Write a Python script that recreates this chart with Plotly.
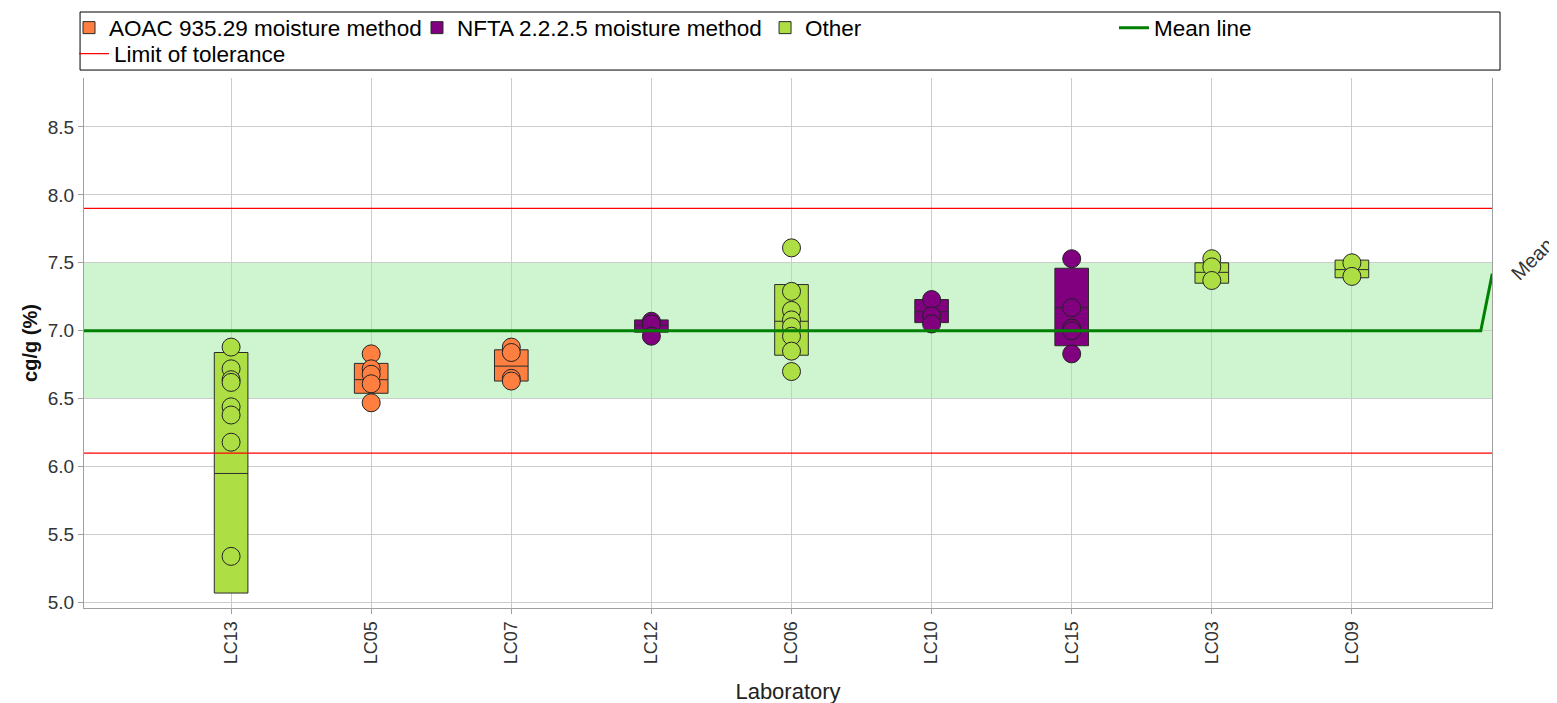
import plotly.graph_objects as go

# ---- data ----
labs = ["LC13", "LC05", "LC07", "LC12", "LC06", "LC10", "LC15", "LC03", "LC09"]
groups = {
    "AOAC 935.29 moisture method": ["LC05", "LC07"],
    "NFTA 2.2.2.5 moisture method": ["LC12", "LC10", "LC15"],
    "Other": ["LC13", "LC06", "LC03", "LC09"],
}
group_colors = {
    "AOAC 935.29 moisture method": "#ff7f40",
    "NFTA 2.2.2.5 moisture method": "#800080",
    "Other": "#addf45",
}
points = {
    "LC13": [6.88, 6.72, 6.64, 6.62, 6.44, 6.38, 6.18, 5.34],
    "LC05": [6.83, 6.72, 6.68, 6.61, 6.47],
    "LC07": [6.88, 6.84, 6.65, 6.63],
    "LC12": [7.07, 7.05, 6.96],
    "LC06": [7.61, 7.29, 7.15, 7.08, 7.03, 6.96, 6.85, 6.70],
    "LC10": [7.23, 7.11, 7.05],
    "LC15": [7.53, 7.17, 7.02, 7.00, 6.83],
    "LC03": [7.53, 7.47, 7.37],
    "LC09": [7.50, 7.40],
}
box_low = {"LC13": 5.07, "LC05": 6.54, "LC07": 6.63, "LC12": 6.99, "LC06": 6.82,
           "LC10": 7.06, "LC15": 6.89, "LC03": 7.35, "LC09": 7.39}
box_mid = {"LC13": 5.95, "LC05": 6.64, "LC07": 6.74, "LC12": 7.04, "LC06": 7.07,
           "LC10": 7.14, "LC15": 7.17, "LC03": 7.43, "LC09": 7.45}
box_high = {"LC13": 6.84, "LC05": 6.76, "LC07": 6.86, "LC12": 7.08, "LC06": 7.34,
            "LC10": 7.23, "LC15": 7.46, "LC03": 7.50, "LC09": 7.52}
mean_value = 7.0
mean_label_value = 7.41
tolerance_band = (6.5, 7.5)
tolerance_limits = [6.1, 7.9]

pos = {lab: i for i, lab in enumerate(labs)}
x_min, x_max = -1.05, len(labs)
FONT = "Liberation Sans, Arial, sans-serif"

fig = go.Figure()

legend_ids = {
    "AOAC 935.29 moisture method": "legend",
    "NFTA 2.2.2.5 moisture method": "legend2",
    "Other": "legend3",
}

# boxes
for g, members in groups.items():
    fig.add_trace(go.Box(
        name=g,
        x=[pos[m] for m in members],
        q1=[box_low[m] for m in members],
        median=[box_mid[m] for m in members],
        q3=[box_high[m] for m in members],
        lowerfence=[box_low[m] for m in members],
        upperfence=[box_high[m] for m in members],
        width=0.24,
        whiskerwidth=0,
        fillcolor=group_colors[g],
        line=dict(color="#2a2a2a", width=1),
        boxpoints=False,
        hoverinfo="skip",
        legend=legend_ids[g],
    ))

# points
for g, members in groups.items():
    xs, ys = [], []
    for m in members:
        xs += [pos[m]] * len(points[m])
        ys += points[m]
    fig.add_trace(go.Scatter(
        x=xs, y=ys, mode="markers", showlegend=False,
        marker=dict(size=18, color=group_colors[g], line=dict(color="#222222", width=1)),
    ))

# mean line with label bracket
fig.add_trace(go.Scatter(
    name="Mean line",
    x=[x_min, x_max - 0.08, x_max, x_max + 0.05],
    y=[mean_value, mean_value, mean_label_value, mean_label_value],
    mode="lines", line=dict(color="#008000", width=3),
    cliponaxis=False, legend="legend4",
))

# limits of tolerance
lx, ly = [], []
for v in tolerance_limits:
    lx += [x_min, x_max, None]
    ly += [v, v, None]
fig.add_trace(go.Scatter(
    name="Limit of tolerance", x=lx, y=ly, mode="lines",
    line=dict(color="#ff0000", width=1.2), legend="legend5",
))

# tolerance band
fig.add_shape(type="rect", xref="x", yref="y", x0=x_min, x1=x_max,
              y0=tolerance_band[0], y1=tolerance_band[1],
              fillcolor="#cff5d0", line=dict(width=0), layer="below")

# legend border
fig.add_shape(type="rect", xref="paper", yref="paper",
              x0=-0.0028, x1=1.0057, y0=1.015, y1=1.1245,
              line=dict(color="black", width=1))

fig.add_annotation(text="Mean", xref="paper", yref="y", x=1.0284, y=7.53,
                   xanchor="center", yanchor="middle", showarrow=False, textangle=-45,
                   font=dict(size=20, color="#333333", family=FONT))

legend_common = dict(orientation="h", bgcolor="rgba(0,0,0,0)",
                     font=dict(size=22.5, color="black", family=FONT),
                     xanchor="left", yanchor="top", itemwidth=30)

fig.update_layout(
    width=1557, height=703,
    margin=dict(l=76, r=73, t=70, b=103, autoexpand=False),
    paper_bgcolor="white", plot_bgcolor="white",
    font=dict(family=FONT, color="#222222"),
    legend=dict(x=-0.01065, y=1.1349, **legend_common),
    legend2=dict(x=0.2365, y=1.1349, **legend_common),
    legend3=dict(x=0.4837, y=1.1349, **legend_common),
    legend4=dict(x=0.7315, y=1.1349, **legend_common),
    legend5=dict(x=-0.0071, y=1.0858, **legend_common),
    xaxis=dict(
        range=[x_min, x_max], tickmode="array", tickvals=list(range(len(labs))), ticktext=labs,
        tickangle=-90, showgrid=True, gridcolor="#cccccc", zeroline=False, automargin=False,
        showline=True, linecolor="#a0a0a0", ticks="outside", ticklen=5, tickcolor="#a0a0a0",
        tickfont=dict(size=18, color="#333333", family=FONT),
        title=dict(text="Laboratory", font=dict(size=22, color="#222222", family=FONT), standoff=20),
    ),
    yaxis=dict(
        range=[4.96, 8.86], dtick=0.5, tick0=5.0, tickformat=".1f", automargin=False,
        showgrid=True, gridcolor="#cccccc", zeroline=False,
        showline=True, linecolor="#a0a0a0", mirror=True, ticks="outside", ticklen=5, tickcolor="#a0a0a0",
        tickfont=dict(size=19, color="#333333", family=FONT),
        title=dict(text="<b>cg/g (%)</b>", font=dict(size=20, color="#111111", family=FONT), standoff=4),
    ),
)

fig.write_html("out.html")
